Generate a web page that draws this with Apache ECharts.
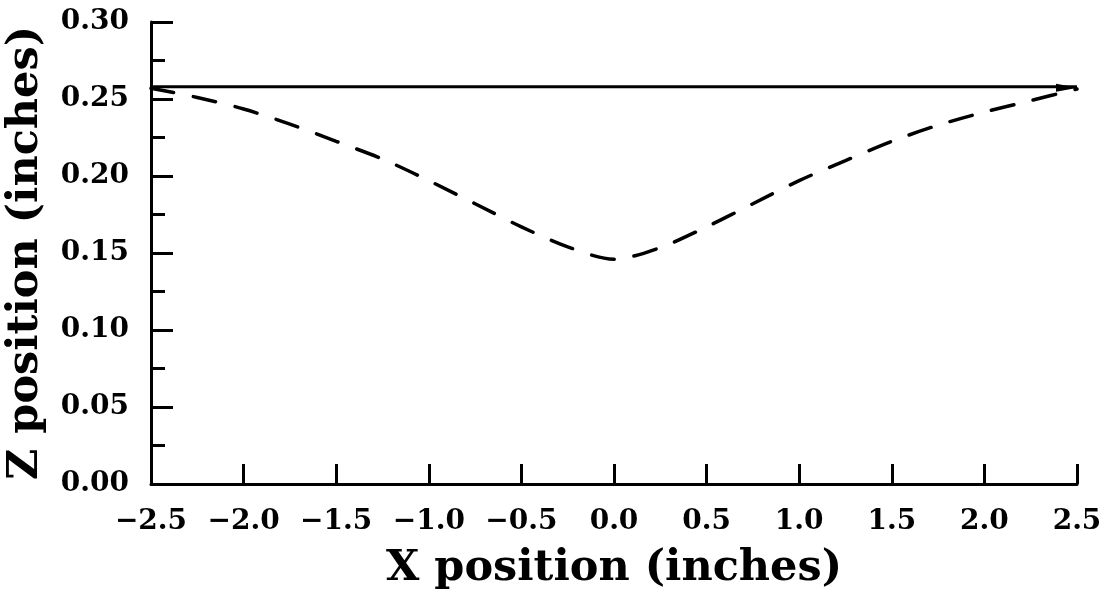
<!DOCTYPE html>
<html>
<head>
<meta charset="utf-8">
<script src="https://cdn.jsdelivr.net/npm/echarts@6/dist/echarts.min.js"></script>
<style>html,body{margin:0;padding:0;background:#fff}#c{width:1100px;height:593px}</style>
</head>
<body>
<div id="c"></div>
<script>
// Data
const xDashed = [-2.5, -2.25, -2.0, -1.75, -1.5, -1.25, -1.0, -0.75, -0.5, -0.25, 0.0, 0.25, 0.5, 0.75, 1.0, 1.25, 1.5, 1.75, 2.0, 2.25, 2.5];
const zDashed = [0.257, 0.251, 0.2435, 0.2337, 0.2225, 0.211, 0.197, 0.182, 0.167, 0.154, 0.146, 0.1535, 0.167, 0.182, 0.197, 0.210, 0.2225, 0.233, 0.2415, 0.249, 0.2565];
const xSolid = [-2.5, 2.5];
const zSolid = [0.258, 0.258];
const xTicks = { min: -2.5, max: 2.5, step: 0.5 };
const yTicks = { min: 0, max: 0.30, step: 0.05 };
const xTitle = 'X position (inches)';
const yTitle = 'Z position (inches)';

const font = 'DejaVu Serif';
const chart = echarts.init(document.getElementById('c'));
const solidData = xSolid.map((x, i) => {
  const d = { value: [x, zSolid[i]] };
  if (i === xSolid.length - 1) {
    d.symbol = 'triangle';
    d.symbolSize = [8, 22];
    d.symbolRotate = -90;
    d.symbolOffset = [-10, 1];
    d.itemStyle = { color: '#000' };
  } else {
    d.symbol = 'none';
  }
  return d;
});
chart.setOption({
  animation: false,
  backgroundColor: '#fff',
  grid: { left: 151, right: 23, top: 22, bottom: 109, containLabel: false, outerBoundsMode: 'none' },
  xAxis: {
    type: 'value', min: xTicks.min, max: xTicks.max, interval: xTicks.step,
    name: xTitle, nameLocation: 'middle', nameGap: 63,
    nameTextStyle: { fontFamily: font, fontWeight: 'bold', fontSize: 43, color: '#000' },
    axisLine: { show: true, onZero: false, lineStyle: { color: '#000', width: 3 } },
    axisTick: { show: true, inside: true, length: 20, lineStyle: { color: '#000', width: 3 } },
    axisLabel: { fontFamily: font, fontWeight: 'bold', fontSize: 28, color: '#000', margin: 24,
      formatter: v => v.toFixed(1).replace('-', '\u2212') },
    splitLine: { show: false }
  },
  yAxis: {
    type: 'value', min: yTicks.min, max: yTicks.max, interval: yTicks.step,
    name: yTitle, nameLocation: 'middle', nameGap: 104, nameRotate: 90,
    nameTextStyle: { fontFamily: font, fontWeight: 'bold', fontSize: 43, color: '#000' },
    axisLine: { show: true, onZero: false, lineStyle: { color: '#000', width: 3 } },
    axisTick: { show: true, inside: true, length: 22, lineStyle: { color: '#000', width: 3 } },
    minorTick: { show: true, splitNumber: 2, length: 14, lineStyle: { color: '#000', width: 3 } },
    axisLabel: { fontFamily: font, fontWeight: 'bold', fontSize: 28, color: '#000', margin: 22,
      formatter: v => v.toFixed(2) },
    splitLine: { show: false }
  },
  series: [
    {
      type: 'line', data: solidData, showSymbol: true, symbol: 'none',
      lineStyle: { color: '#000', width: 3 }, z: 3
    },
    {
      type: 'line', data: xDashed.map((x, i) => [x, zDashed[i]]), symbol: 'none', smooth: 0.3,
      lineStyle: { color: '#000', width: 3.5, type: [23, 20], cap: 'round' }
    }
  ]
});
</script>
</body>
</html>
